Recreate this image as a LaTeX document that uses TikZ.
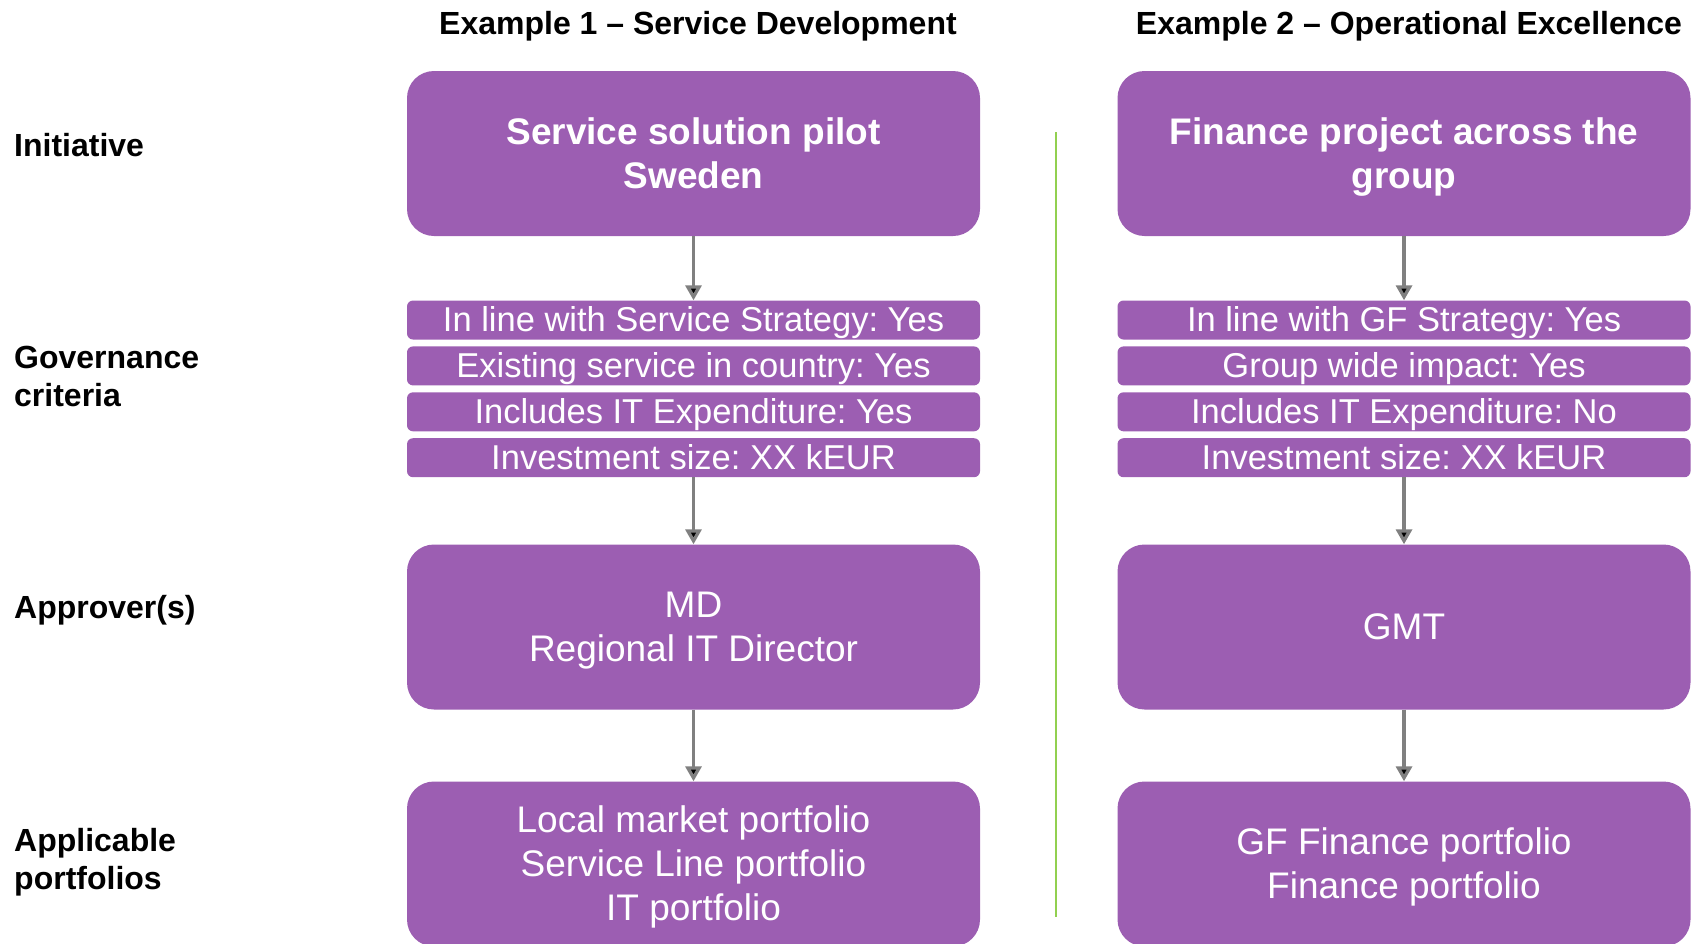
\documentclass[tikz,border=0pt]{standalone}
\usepackage{fontspec}
\setmainfont{Liberation Sans}
\usetikzlibrary{positioning, arrows.meta}
\definecolor{boxpurple}{RGB}{156,94,178}
\definecolor{sepgreen}{RGB}{146,208,80}
\definecolor{flowgray}{RGB}{128,128,128}
\newcommand{\boxstrut}{\rule[-7.8pt]{0pt}{41.3pt}}
\frenchspacing

\begin{document}
\begin{tikzpicture}[x=1pt, y=-1pt, node distance=6.5pt,
    bigbox/.style={rectangle, rounded corners=27pt, fill=boxpurple, text=white, minimum width=573pt, minimum height=165pt, align=center, inner sep=0pt, font=\fontsize{37}{44}\selectfont, execute at end node=\boxstrut},
    critbar/.style={rectangle, rounded corners=6pt, fill=boxpurple, text=white, minimum width=573pt, minimum height=39pt, inner sep=0pt, text height=31pt, text depth=7.2pt, font=\fontsize{34.5}{40}\selectfont},
    rowlabel/.style={anchor=west, align=left, inner sep=0pt, font=\bfseries\fontsize{32}{38}\selectfont},
    coltitle/.style={inner sep=0pt, font=\bfseries\fontsize{32}{38}\selectfont},
    flow/.style={-{Triangle[width=16pt,length=15pt]}, draw=flowgray, line width=3.3pt}]

    \useasboundingbox (0,0) rectangle (1696,943);

    % row labels
    \node [rowlabel] (lblinit) at (14, 145) {Initiative};
    \node [rowlabel] (lblgov) at (14, 376) {Governance\\criteria};
    \node [rowlabel] (lblappr) at (14, 610) {Approver(s)};
    \node [rowlabel] (lblport) at (14, 862) {Applicable\\portfolios};

    % example 1
    \node [coltitle] (title1) at (698, 26) {Example 1 -- Service Development};
    \node [bigbox] (init1) at (693.5, 153.5) {\boxstrut\bfseries Service solution pilot\\\bfseries Sweden};
    \node [critbar] (critA1) at (693.5, 320) {In line with Service Strategy: Yes};
    \node [critbar, below=of critA1] (critB1) {Existing service in country: Yes};
    \node [critbar, below=of critB1] (critC1) {Includes IT Expenditure: Yes};
    \node [critbar, below=of critC1] (critD1) {Investment size: XX kEUR};
    \node [bigbox] (appr1) at (693.5, 627) {\boxstrut MD\\Regional IT Director};
    \node [bigbox] (port1) at (693.5, 864) {\boxstrut Local market portfolio\\Service Line portfolio\\IT portfolio};

    % example 2
    \node [coltitle] (title2) at (1409, 26) {Example 2 -- Operational Excellence};
    \node [bigbox] (init2) at (1404, 153.5) {\boxstrut\bfseries Finance project across the\\\bfseries group};
    \node [critbar] (critA2) at (1404, 320) {In line with GF Strategy: Yes};
    \node [critbar, below=of critA2] (critB2) {Group wide impact: Yes};
    \node [critbar, below=of critB2] (critC2) {Includes IT Expenditure: No};
    \node [critbar, below=of critC2] (critD2) {Investment size: XX kEUR};
    \node [bigbox] (appr2) at (1404, 627) {\boxstrut GMT};
    \node [bigbox] (port2) at (1404, 864) {\boxstrut GF Finance portfolio\\Finance portfolio};

    \path [flow]
      (init1) edge (critA1)
      (critD1) edge (appr1)
      (appr1) edge (port1)
      (init2) edge (critA2)
      (critD2) edge (appr2)
      (appr2) edge (port2);

    % separator
    \coordinate (septop) at (1056, 132);
    \coordinate (sepbot) at (1056, 917);
    \draw [sepgreen, line width=2pt] (septop) -- (sepbot);
\end{tikzpicture}
\end{document}
